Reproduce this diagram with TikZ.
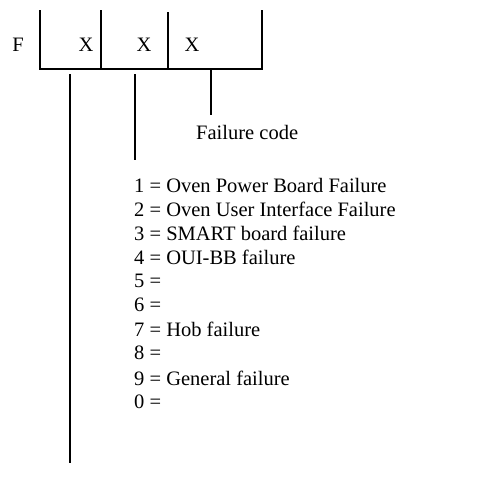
\documentclass[tikz,border=0pt]{standalone}
\usepackage{fontspec}
\setmainfont{Liberation Serif}
\begin{document}
\begin{tikzpicture}[x=1pt,y=-1pt,
  ln/.style={line width=1.8pt,line cap=butt},
  txt/.style={inner sep=0pt,anchor=west,font=\fontsize{20.5}{24}\selectfont},
  lbl/.style={inner sep=0pt,anchor=center,font=\fontsize{20.5}{24}\selectfont}]
\useasboundingbox (0,0) rectangle (482,490);
% frame
\coordinate (tl) at (40,10);
\coordinate (bl) at (40,69);
\coordinate (br) at (262,69);
\coordinate (tr) at (262,10);
\draw[ln] (tl) -- (bl) -- (br) -- (tr);
\coordinate (d1t) at (101,10); \coordinate (d1b) at (101,69);
\coordinate (d2t) at (168,12); \coordinate (d2b) at (168,69);
\draw[ln] (d1t) -- (d1b);
\draw[ln] (d2t) -- (d2b);
\node[lbl] (F) at (18,45) {F};
\node[lbl] (x1) at (86,45) {X};
\node[lbl] (x2) at (144,45) {X};
\node[lbl] (x3) at (192,45) {X};
% leaders
\coordinate (l1t) at (70,74); \coordinate (l1b) at (70,463);
\coordinate (l2t) at (135,74); \coordinate (l2b) at (135,160);
\coordinate (l3t) at (211,70); \coordinate (l3b) at (211,115);
\draw[ln] (l1t) -- (l1b);
\draw[ln] (l2t) -- (l2b);
\draw[ln] (l3t) -- (l3b);
\node[txt] (fc) at (196,132) {Failure code};
\node[txt] (c1) at (134,185) {1 = Oven Power Board Failure};
\node[txt] (c2) at (134,209) {2 = Oven User Interface Failure};
\node[txt] (c3) at (134,233) {3 = SMART board failure};
\node[txt] (c4) at (134,257) {4 = OUI-BB failure};
\node[txt] (c5) at (134,281) {5 =};
\node[txt] (c6) at (134,305) {6 =};
\node[txt] (c7) at (134,329) {7 = Hob failure};
\node[txt] (c8) at (134,353) {8 =};
\node[txt] (c9) at (134,378) {9 = General failure};
\node[txt] (c0) at (134,402) {0 =};
\end{tikzpicture}
\end{document}
